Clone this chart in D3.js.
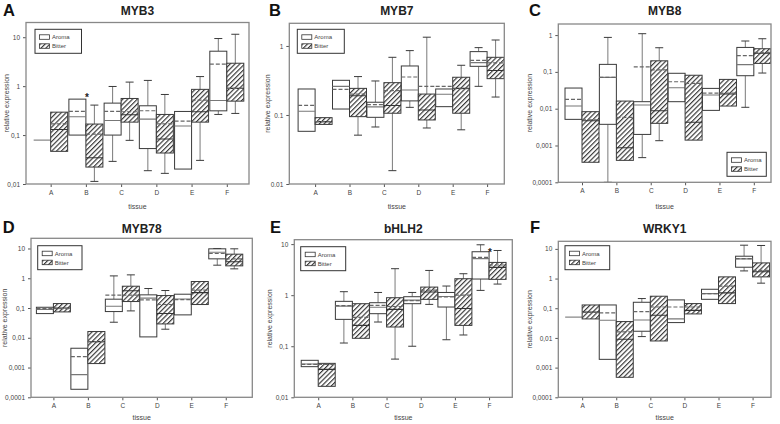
<!DOCTYPE html>
<html><head><meta charset="utf-8">
<script src="https://cdn.jsdelivr.net/npm/d3@7"></script>
<style>
body{margin:0;background:#fff;}
svg{display:block;font-family:"Liberation Sans",Arial,sans-serif;}
</style></head>
<body>
<svg id="chart" width="780" height="424"></svg>
<script>
// ---------- DATA ----------
// each box: [whiskerLow, q1, median, q3, whiskerHigh, mean]; null = no whisker
const tissues = ["A","B","C","D","E","F"];
const genes = ["MYB3","MYB7","MYB8","MYB78","bHLH2","WRKY1"];
const panelLetters = ["A","B","C","D","E","F"];
const groups = ["Aroma","Bitter"];

const myb3Aroma = [[null,0.079,0.079,0.079,null,0.079],[null,0.1,0.237,0.543,null,0.304],[0.029,0.1,0.199,0.45,0.985,0.304],[0.0187,0.053,0.212,0.397,1.31,0.314],[null,0.0202,0.153,0.304,null,0.193],[0.264,0.313,0.51,5.18,9.4,2.81]];
const myb3Bitter = [[null,0.0465,0.13,0.294,null,0.17],[0.0113,0.0222,0.0345,0.168,0.41,0.105],[0.078,0.184,0.26,0.56,1.21,0.30],[0.0165,0.043,0.083,0.264,0.676,0.17],[0.0304,0.184,0.3,0.86,1.57,0.52],[0.277,0.494,0.9,2.94,11.5,0.9]];

const myb7Aroma = [[null,0.058,0.113,0.238,null,0.138],[null,0.122,0.26,0.318,null,0.235],[0.067,0.0925,0.131,0.153,0.311,0.141],[0.129,0.16,0.23,0.513,0.856,0.355],[null,0.132,0.2,0.238,null,0.26],[0.26,0.507,0.573,0.828,0.946,0.62]];
const myb7Bitter = [[null,0.073,0.08,0.0915,null,0.08],[0.051,0.0946,0.19,0.243,0.36,0.2],[0.0156,0.106,0.137,0.294,0.685,0.225],[0.0648,0.0847,0.118,0.201,1.34,0.26],[0.061,0.106,0.243,0.352,0.525,0.24],[0.182,0.336,0.44,0.685,1.22,0.57]];

const myb8Aroma = [[null,0.00513,0.0118,0.0364,null,0.0179],[0.0001,0.00376,0.071,0.16,0.865,0.071],[0.000468,0.002,0.0126,0.0155,1.09,0.136],[null,0.0155,0.037,0.0916,null,0.054],[null,0.009,0.0235,0.0356,null,0.0266],[0.0109,0.0787,0.157,0.462,0.69,0.275]];
const myb8Bitter = [[null,0.00035,0.0047,0.0083,null,0.005],[null,0.000395,0.00087,0.0161,null,0.0058],[0.00135,0.004,0.0088,0.2,0.453,0.113],[null,0.0014,0.0043,0.081,null,0.049],[null,0.0118,0.025,0.0625,null,0.0266],[0.093,0.17,0.32,0.426,0.795,0.34]];

const myb78Aroma = [[null,0.065,0.09,0.106,null,0.095],[null,0.000186,0.000578,0.00445,null,0.00233],[0.0333,0.076,0.115,0.198,1.2,0.269],[null,0.0107,0.215,0.277,0.452,0.188],[null,0.0588,0.2,0.291,null,0.19],[2.75,4.49,7.5,9.75,10,6.79]];
const myb78Bitter = [[null,0.074,0.1,0.141,null,0.095],[null,0.00136,0.0074,0.0162,null,0.0074],[0.08,0.165,0.38,0.54,1.3,0.27],[0.0194,0.0292,0.0655,0.262,0.387,0.131],[null,0.131,0.33,0.776,null,0.4],[2.07,2.61,3.6,6.44,9.75,4.5]];

const bhlh2Aroma = [[null,0.0398,0.045,0.053,null,0.0443],[0.1156,0.336,0.61,0.757,1.17,0.622],[0.298,0.434,0.58,0.712,1.13,0.63],[0.1,0.681,0.8,0.933,1.13,0.78],[0.134,0.586,0.94,1.13,1.51,0.92],[1.24,2.07,5.2,7.09,9.7,5.5]];
const bhlh2Bitter = [[null,0.0164,0.0353,0.0462,null,0.0443],[null,0.143,0.256,0.681,null,0.368],[0.056,0.238,0.527,0.892,3.3,0.6],[0.66,0.828,1.15,1.44,3.05,1.25],[0.166,0.256,0.55,2.1,2.63,1.0],[1.65,2.04,3.5,4.38,7.5,3.9]];

const wrky1Aroma = [[null,0.05,0.05,0.05,null,0.05],[null,0.0019,0.0394,0.129,null,0.0697],[0.0111,0.0168,0.0404,0.159,0.212,0.0773],[null,0.0329,0.044,0.191,null,0.11],[null,0.2,0.31,0.436,null,0.31],[1.81,2.41,4.6,5.66,13.3,4.7]];
const wrky1Bitter = [[null,0.0437,0.075,0.129,null,0.072],[null,0.000472,0.009,0.0356,null,0.0159],[null,0.0079,0.058,0.254,null,0.11],[null,0.0644,0.085,0.1437,null,0.11],[null,0.1437,0.33,1.14,null,0.56],[0.7,1.14,1.7,3.37,13,1.9]];

const tickLabelsComma = ["10","1","0,1","0,01","0,001","0,0001"];
const tickLabelsDot = ["10","1","0.1","0.01","0.001","0.0001"];
const tickValues = [10,1,0.1,0.01,0.001,0.0001];
const stars = [{panel:0, tissue:"B", value:0.62},{panel:4, tissue:"F", value:7.2}];

const panelData = [
  [myb3Aroma, myb3Bitter],[myb7Aroma, myb7Bitter],[myb8Aroma, myb8Bitter],
  [myb78Aroma, myb78Bitter],[bhlh2Aroma, bhlh2Bitter],[wrky1Aroma, wrky1Bitter]
];

// ---------- LAYOUT ----------
const layout = [
  {l:26,r:249,t:22.5,b:184,ymin:0.01,ymax:20,xmin:0.3,xmax:6.63,lx:3,ly:16,ty:15,ylx:7,xly:209,leg:[35,29.3,46.5],dot:false},
  {l:289.3,r:504.3,t:23.3,b:184,ymin:0.01,ymax:2.13,xmin:0.25,xmax:6.5,lx:269,ly:16,ty:15,ylx:268,xly:209,leg:[297.3,29.3,47],dot:true},
  {l:558.3,r:771,t:24,b:182.3,ymin:0.0001,ymax:2,xmin:0.31,xmax:6.5,lx:529,ly:16,ty:15,ylx:530,xly:209,leg:[727,152.3,39.3],dot:false},
  {l:31,r:252.3,t:238.3,b:397.3,ymin:0.0001,ymax:22,xmin:0.35,xmax:6.77,lx:2.7,ly:233,ty:233,ylx:5.5,xly:420,leg:[37.7,245.7,44.3],dot:false},
  {l:294.3,r:512.3,t:239.7,b:397.3,ymin:0.01,ymax:12.2,xmin:0.3,xmax:6.68,lx:270,ly:233,ty:233,ylx:270.5,xly:420,leg:[300.7,246.7,45],dot:false},
  {l:558.3,r:771,t:241.3,b:397.3,ymin:0.0001,ymax:18,xmin:0.3,xmax:6.54,lx:530,ly:233,ty:233,ylx:530,xly:420,leg:[565,245.7,44.7],dot:false}
];

const svg = d3.select("#chart");
const defs = svg.append("defs");
const pat = defs.append("pattern").attr("id","hatch").attr("patternUnits","userSpaceOnUse")
  .attr("width",3.4).attr("height",10).attr("patternTransform","rotate(45)");
pat.append("rect").attr("width",3.4).attr("height",10).attr("fill","#fff");
pat.append("line").attr("x1",0.6).attr("x2",0.6).attr("y1",0).attr("y2",10)
  .attr("stroke","#2a2a2a").attr("stroke-width",1.1);

const BOXW = 17, CAP = 4;
const boxStroke = "#3a3a3a", whiskColor = "#7a7a7a", meanColor = "#666";

layout.forEach((L, pi) => {
  const g = svg.append("g");
  const x = d3.scaleLinear().domain([L.xmin, L.xmax]).range([L.l, L.r]);
  const y = d3.scaleLog().domain([L.ymin, L.ymax]).range([L.b, L.t]);
  const labels = L.dot ? tickLabelsDot : tickLabelsComma;

  // y axis
  const tv = tickValues.filter(v => v >= L.ymin*0.999 && v <= L.ymax);
  const yAxis = d3.axisLeft(y).tickValues(tv).tickSize(3).tickPadding(3)
     .tickFormat(v => labels[tickValues.indexOf(v)]);
  const ya = g.append("g").attr("transform",`translate(${L.l},0)`).call(yAxis);
  ya.select(".domain").remove();
  ya.selectAll("line").attr("stroke","#555");
  ya.selectAll("text").attr("font-size",6.5).attr("fill","#444").attr("font-family","Liberation Sans, Arial, sans-serif");

  // x axis
  const xAxis = d3.axisBottom(x).tickValues(d3.range(1,7)).tickSize(3).tickPadding(3)
     .tickFormat(i => tissues[i-1]);
  const xa = g.append("g").attr("transform",`translate(0,${L.b})`).call(xAxis);
  xa.select(".domain").remove();
  xa.selectAll("line").attr("stroke","#555");
  xa.selectAll("text").attr("font-size",6.5).attr("fill","#444").attr("font-family","Liberation Sans, Arial, sans-serif");

  // boxes
  const clipId = "clip"+pi;
  defs.append("clipPath").attr("id",clipId).append("rect")
    .attr("x",L.l).attr("y",L.t).attr("width",L.r-L.l).attr("height",L.b-L.t);
  const pg = g.append("g").attr("clip-path",`url(#${clipId})`);

  panelData[pi].forEach((series, si) => {
    series.forEach((d, ti) => {
      const [lo,q1,med,q3,hi,mean] = d;
      const cx0 = x(ti+1);
      const x0 = si === 0 ? cx0 - BOXW : cx0;
      const cx = x0 + BOXW/2;
      // whiskers
      if (hi != null) {
        pg.append("line").attr("x1",cx).attr("x2",cx).attr("y1",y(q3)).attr("y2",y(hi)).attr("stroke",whiskColor).attr("stroke-width",1);
        pg.append("line").attr("x1",cx-CAP).attr("x2",cx+CAP).attr("y1",y(hi)).attr("y2",y(hi)).attr("stroke",boxStroke).attr("stroke-width",1);
      }
      if (lo != null) {
        pg.append("line").attr("x1",cx).attr("x2",cx).attr("y1",y(q1)).attr("y2",y(lo)).attr("stroke",whiskColor).attr("stroke-width",1);
        pg.append("line").attr("x1",cx-CAP).attr("x2",cx+CAP).attr("y1",y(lo)).attr("y2",y(lo)).attr("stroke",boxStroke).attr("stroke-width",1);
      }
      if (q1 === q3) {
        pg.append("line").attr("x1",x0).attr("x2",x0+BOXW).attr("y1",y(med)).attr("y2",y(med))
          .attr("stroke","#888").attr("stroke-width",1.3);
        return;
      }
      pg.append("rect").attr("x",x0).attr("y",y(q3)).attr("width",BOXW).attr("height",y(q1)-y(q3))
        .attr("fill", si === 0 ? "#fff" : "url(#hatch)")
        .attr("stroke",boxStroke).attr("stroke-width",1);
      pg.append("line").attr("x1",x0).attr("x2",x0+BOXW).attr("y1",y(med)).attr("y2",y(med))
        .attr("stroke", si === 0 ? "#777" : "#333").attr("stroke-width",1.1);
      pg.append("line").attr("x1",x0).attr("x2",x0+BOXW).attr("y1",y(mean)).attr("y2",y(mean))
        .attr("stroke",meanColor).attr("stroke-width",1.2).attr("stroke-dasharray","4,2");
    });
  });

  // stars
  stars.filter(s => s.panel === pi).forEach(s => {
    g.append("text").attr("x", x(tissues.indexOf(s.tissue)+1)+1).attr("y", y(s.value)+5)
      .attr("text-anchor","middle").attr("font-size",10).attr("font-weight","bold").attr("fill","#222").text("*");
  });

  // frame
  g.append("rect").attr("x",L.l).attr("y",L.t).attr("width",L.r-L.l).attr("height",L.b-L.t)
    .attr("fill","none").attr("stroke","#888").attr("stroke-width",1.3);

  // labels
  g.append("text").attr("x",L.lx).attr("y",L.ly).attr("font-size",16.5).attr("font-weight","bold").attr("fill","#111").text(panelLetters[pi]);
  g.append("text").attr("x",(L.l+L.r)/2).attr("y",L.ty).attr("text-anchor","middle").attr("font-size",12).attr("font-weight","bold").attr("fill","#222").text(genes[pi]);
  g.append("text").attr("transform",`translate(${L.ylx},${(L.t+L.b)/2}) rotate(-90)`).attr("text-anchor","middle")
    .attr("dominant-baseline","middle").attr("font-size",7).attr("fill","#444").text("relative expression");
  g.append("text").attr("x",(L.l+L.r)/2).attr("y",L.xly).attr("text-anchor","middle").attr("font-size",7).attr("fill","#444").text("tissue");

  // legend
  const [lgx, lgy, lgw] = L.leg;
  const lg = g.append("g").attr("transform",`translate(${lgx},${lgy})`);
  lg.append("rect").attr("width",lgw).attr("height",24).attr("fill","#fff").attr("stroke","#333").attr("stroke-width",1);
  groups.forEach((name, k) => {
    lg.append("rect").attr("x",4.5).attr("y",5.5+k*9).attr("width",10).attr("height",4.5)
      .attr("fill", k === 0 ? "#fff" : "url(#hatch)").attr("stroke","#333").attr("stroke-width",0.8);
    lg.append("text").attr("x",17).attr("y",10+k*9).attr("font-size",6).attr("fill","#444").text(name);
  });
});
</script>
</body></html>
